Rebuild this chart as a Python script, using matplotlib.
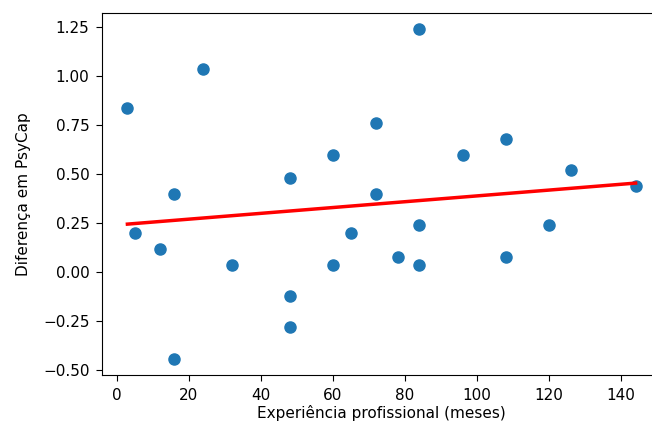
import numpy as np
import matplotlib
matplotlib.use("Agg")
import matplotlib.pyplot as plt

# experiência profissional (meses) e diferença em PsyCap
experiencia = [3, 24, 16, 48, 60, 72, 72, 84, 96, 108, 126, 144,
               5, 12, 32, 48, 48, 16, 60, 65, 84, 78, 84, 108, 120]
diferenca = [0.84, 1.04, 0.40, 0.48, 0.60, 0.76, 0.40, 1.24, 0.60, 0.68, 0.52, 0.44,
             0.20, 0.12, 0.04, -0.12, -0.28, -0.44, 0.04, 0.20, 0.24, 0.08, 0.04, 0.08, 0.24]

x = np.array(experiencia)
y = np.array(diferenca)

# reta de regressão
coef = np.polyfit(x, y, 1)
ordem = np.argsort(x)
ajuste = np.polyval(coef, x[ordem])

fig = plt.figure(figsize=(6.52, 4.28), dpi=100)
# o eixo passa da borda direita, como na imagem original (recortada)
ax = fig.add_axes([102 / 652, 1 - 375 / 428, (661 - 102) / 652, (375 - 13) / 428])

ax.scatter(x, y, s=64, color='#1f77b4', zorder=2)
ax.plot(x[ordem], ajuste, color='red', linewidth=2.5, zorder=3)

ax.set_xlabel('Experiência profissional (meses)', fontsize=11, labelpad=2)
ax.set_ylabel('Diferença em PsyCap', fontsize=11, labelpad=9)
ax.tick_params(labelsize=11, length=4.5, pad=4.5)

fig.savefig('out.png', dpi=100)
